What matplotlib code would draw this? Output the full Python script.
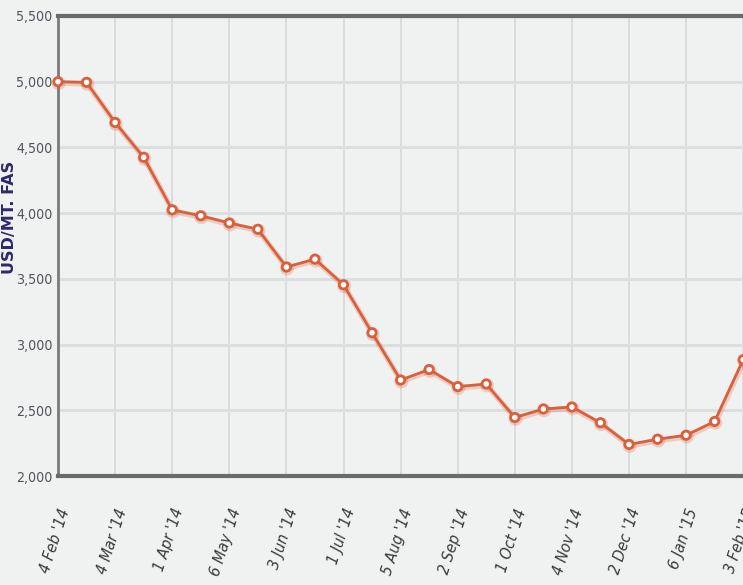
import matplotlib
matplotlib.use("Agg")
import matplotlib.pyplot as plt
import matplotlib.patheffects as pe
from matplotlib import font_manager

dates_idx = list(range(25))
prices = [5000, 4995, 4690, 4425, 4025, 3980, 3925, 3877, 3590, 3650, 3455, 3090,
          2730, 2810, 2680, 2700, 2445, 2510, 2525, 2405, 2240, 2280, 2310, 2415, 2885]
tick_labels = ["4 Feb '14", "4 Mar '14", "1 Apr '14", "6 May '14", "3 Jun '14", "1 Jul '14",
               "5 Aug '14", "2 Sep '14", "1 Oct '14", "4 Nov '14", "2 Dec '14", "6 Jan '15",
               "3 Feb '15"]
yticks = [2000, 2500, 3000, 3500, 4000, 4500, 5000, 5500]
ylabel = "USD/MT. FAS"

entries = font_manager.fontManager.ttflist
names = {f.name for f in entries}
has_cond = any(f.name == "DejaVu Sans" and str(f.stretch) in ("condensed", "semi-condensed", "500")
               for f in entries)
if "Liberation Sans Narrow" in names:
    tick_font = dict(fontfamily="Liberation Sans Narrow")
elif has_cond:
    tick_font = dict(fontfamily="DejaVu Sans", fontstretch="condensed")
else:
    tick_font = dict(fontfamily="Liberation Sans")

W, H = 743, 585
bg = "#f0f1f1"
fig = plt.figure(figsize=(W / 100, H / 100), dpi=100, facecolor=bg)

left_px, top_px, bottom_px = 58, 16, 476
step = 28.55
xmax = 24.6
right_px = left_px + xmax * step
ax = fig.add_axes([left_px / W, 1 - bottom_px / H, (right_px - left_px) / W, (bottom_px - top_px) / H])
ax.set_facecolor(bg)
ax.set_xlim(0, xmax)
ax.set_ylim(2000, 5500)

ax.set_yticks(yticks)
ax.set_yticklabels([f"{v:,}" for v in yticks], fontsize=10.2, color="#50555c", **tick_font)
ax.set_xticks(dates_idx[::2])
ax.set_xticklabels(tick_labels, rotation=72, ha="right", va="top", rotation_mode="anchor",
                   fontsize=11.5, fontstyle="italic", color="#3a3a3a", **tick_font)
ax.tick_params(axis="both", length=0)
ax.tick_params(axis="x", pad=22)
ax.tick_params(axis="y", pad=4)

ax.grid(True, axis="y", color="#dcdedf", linewidth=2.2)
ax.grid(True, axis="x", color="#d6d8d9", linewidth=1.2)
ax.set_axisbelow(True)

for s in ["top", "bottom"]:
    ax.spines[s].set_color("#6a6a6a")
    ax.spines[s].set_linewidth(3)
ax.spines["left"].set_color("#7a7a7a")
ax.spines["left"].set_linewidth(2)
ax.spines["right"].set_visible(False)

ax.plot(dates_idx, prices, color="#d9603b", linewidth=2.0, marker="o", markersize=6,
        markerfacecolor="white", markeredgecolor="#d9603b", markeredgewidth=2,
        clip_on=False, zorder=3,
        path_effects=[pe.SimpleLineShadow(offset=(0.5, -1), shadow_color="#d9603b", alpha=0.25, linewidth=4),
                      pe.Normal()])

fig.text(10 / W, 1 - 217 / H, ylabel, rotation=90, ha="center", va="center",
         fontsize=11.5, fontweight="bold", color="#2b2a6b", fontfamily="DejaVu Sans")

fig.savefig("out.png", dpi=100, facecolor=bg)
